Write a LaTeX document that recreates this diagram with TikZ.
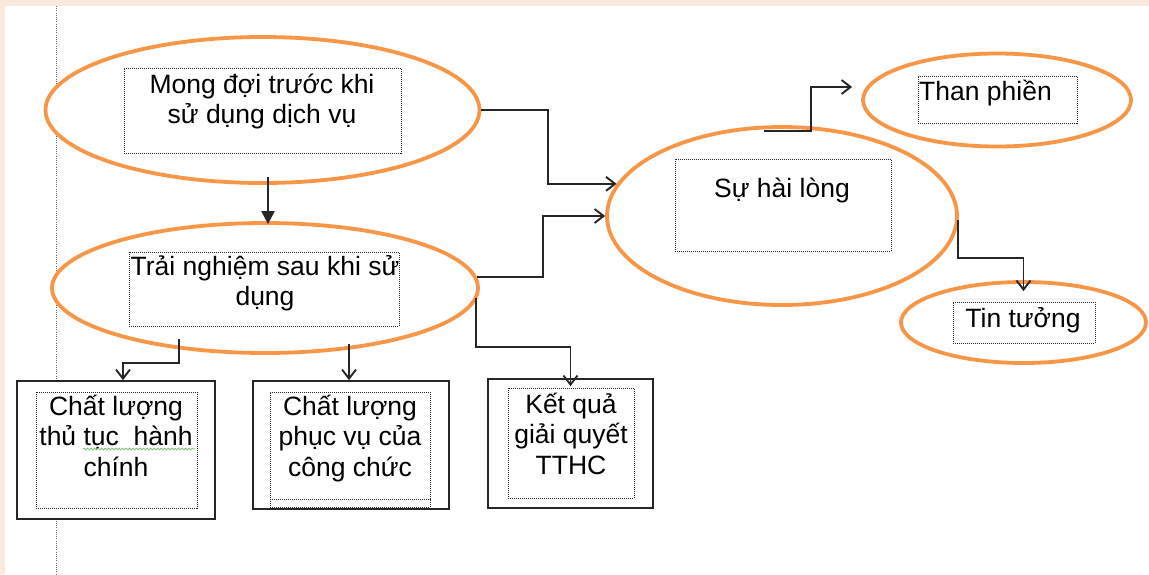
\documentclass[tikz,border=0pt]{standalone}
\usepackage{fontspec}
\setmainfont{Liberation Sans}
\usetikzlibrary{shapes.geometric,arrows.meta,calc,decorations.pathmorphing}
\definecolor{peach}{HTML}{FBE9DB}
\definecolor{orng}{HTML}{F79646}
\definecolor{ink}{HTML}{262626}
\definecolor{squiggreen}{HTML}{7CC47C}
\newcommand\tstrut{\rule{0pt}{30pt}}
\lineskiplimit=-100pt
\begin{document}
\begin{tikzpicture}[x=1pt,y=-1pt,
  oval/.style={ellipse, draw=orng, line width=3.8pt, fill=white, inner sep=0pt},
  framebox/.style={rectangle, draw=ink, line width=1.8pt, fill=white, inner sep=0pt},
  dotbox/.style={rectangle, draw=black!85, line width=0.9pt, dash pattern=on 1pt off 1pt, inner sep=0pt},
  lbl/.style={font=\fontsize{26.5}{30.5}\selectfont, inner sep=0pt, align=center, anchor=north},
  arr/.style={draw=ink, line width=1.9pt, -{Straight Barb[length=9pt,width=14pt,line width=1.9pt]}},
  tri/.style={draw=ink, line width=1.9pt, -{Triangle[length=13pt,width=13pt]}},
  squig/.style={draw=squiggreen, line width=0.8pt, decorate, decoration={snake, amplitude=0.9pt, segment length=3.5pt}}
]
\useasboundingbox (0,0) rectangle (1149,574);
\fill[peach] (0,0) rectangle (1149,574);
\fill[white] (5,6) rectangle (1149,574);
\draw[gray!80!black, line width=0.9pt, dash pattern=on 1pt off 1.2pt] (56,6) -- (56,574);

% ovals
\node[oval, minimum width=434pt, minimum height=146pt] (e1) at (262.5,110) {};
\node[oval, minimum width=426pt, minimum height=130pt] (e2) at (265,288) {};
\node[oval, minimum width=350pt, minimum height=178pt] (e3) at (782,216) {};
\node[oval, minimum width=268pt, minimum height=93pt] (e4) at (997,100) {};
\node[oval, minimum width=245pt, minimum height=81pt] (e5) at (1023.5,322.5) {};

% boxes
\node[framebox, minimum width=198pt, minimum height=138pt] (bA) at (116,450) {};
\node[framebox, minimum width=196pt, minimum height=128pt] (bB) at (351,445) {};
\node[framebox, minimum width=165pt, minimum height=129pt] (bC) at (570.5,443.5) {};

% connectors
\draw[tri] ($(e1.south)+(5.5,-8)$) -- ($(e2.north)+(3,3)$);
\draw[arr] (e1.east) -- ++(67,0) |- (e3.169);
\draw[arr] (e2.3) -- ++(66,0) |- (e3.west);
\draw[arr] ($(e3.north)+(-18,6)$) -- ++(47,0) |- ($(e4.west)+(-9,-13)$);
\draw[arr] ($(e3.east)+(-1,4)$) -- ++(0,38) -| ($(e5.north)+(0,11)$);
\draw[arr] ($(e2.south)+(-86,-16)$) -- ++(0,24) -| ($(bA.north)+(7,0)$);
\draw[arr] ($(e2.south)+(84,-11)$) -- ($(bB.north)+(-2,0)$);
\draw[arr] ($(e2.east)+(-4,10)$) -- ++(0,49) -| ($(bC.north)+(0,8)$);

% dotted text frames
\node[dotbox, minimum width=277pt, minimum height=85pt] (t1) at (262.5,110.5) {};
\node[dotbox, minimum width=270pt, minimum height=74pt] (t2) at (264,289) {};
\node[dotbox, minimum width=216pt, minimum height=92pt] (t3) at (783,205) {};
\node[dotbox, minimum width=159pt, minimum height=47pt] (t4) at (997.5,99.5) {};
\node[dotbox, minimum width=142pt, minimum height=41pt] (t5) at (1024,322.5) {};
\node[dotbox, minimum width=161pt, minimum height=116pt] (tA) at (116.5,450) {};
\node[dotbox, minimum width=160pt, minimum height=115pt] (tB) at (350,449.5) {};
\draw[black!85, line width=0.9pt, dash pattern=on 1pt off 1pt] (tB.west |- 0,499) -- (tB.east |- 0,499);
\node[dotbox, minimum width=126pt, minimum height=110pt] (tC) at (571,443) {};

% texts
\node[lbl] (l1) at (262,63) {\tstrut Mong đợi trước khi\\sử dụng dịch vụ};
\node[lbl] (l2) at (265,245) {\tstrut Trải nghiệm sau khi sử\\dụng};
\node[lbl] (l3) at (782,167) {\tstrut Sự hài lòng};
\node[lbl, anchor=north west] (l4) at (919,70) {\tstrut Than phiền};
\node[lbl] (l5) at (1023,297) {\tstrut Tin tưởng};
\node[lbl] (lA) at (116,385) {\tstrut Chất lượng\\thủ tục\ \ hành\\chính};
\node[lbl] (lB) at (350,385) {\tstrut Chất lượng\\phục vụ của\\công chức};
\node[lbl] (lC) at (571,383) {\tstrut Kết quả\\giải quyết\\TTHC};
\draw[squig] (83,449) -- (195,449);
\end{tikzpicture}
\end{document}
